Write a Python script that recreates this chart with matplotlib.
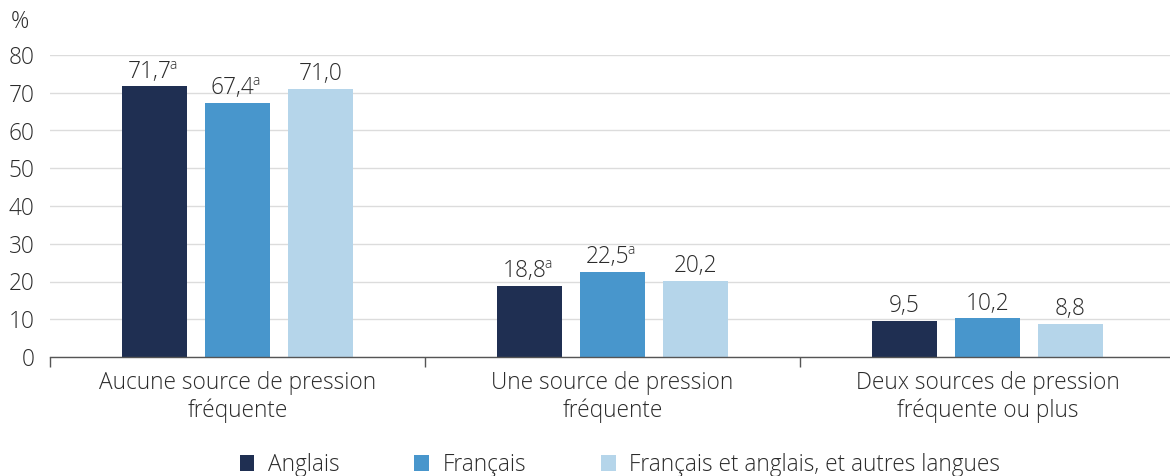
import numpy as np
import matplotlib
matplotlib.use("Agg")
import matplotlib.pyplot as plt
from matplotlib.patches import Patch

# data
categories = [
    "Aucune source de pression\nfréquente",
    "Une source de pression\nfréquente",
    "Deux sources de pression\nfréquente ou plus",
]
series_names = ["Anglais", "Français", "Français et anglais, et autres langues"]
anglais = [71.7, 18.8, 9.5]
francais = [67.4, 22.5, 10.2]
autres = [71.0, 20.2, 8.8]
# "a" marks a significant difference
flags_anglais = [True, True, False]
flags_francais = [True, True, False]
flags_autres = [False, False, False]
yticks = [0, 10, 20, 30, 40, 50, 60, 70, 80]

colors = ["#1f2f52", "#4896cc", "#b5d5ea"]
txt = "#2b2b2b"
fs = 16.3

plt.rcParams["font.family"] = ["Open Sans", "DejaVu Sans"]
plt.rcParams["font.weight"] = "light"
plt.rcParams["font.size"] = fs

fig = plt.figure(figsize=(11.7, 4.76), dpi=100)
# the plot area runs a little past the right edge of the image
ax = fig.add_axes([50 / 1170, 119 / 476, 1125 / 1170, 302 / 476])

x = np.arange(len(categories))
width = 0.173
pitch = 0.221
series = [anglais, francais, autres]
flags = [flags_anglais, flags_francais, flags_autres]

for i, (vals, fl) in enumerate(zip(series, flags)):
    xs = x + (i - 1) * pitch
    ax.bar(xs, vals, width, color=colors[i], zorder=3)
    for xi, v, f in zip(xs, vals, fl):
        label = f"{v:.1f}".replace(".", ",")
        t = ax.annotate(label, (xi, v), xytext=(-3.5 if f else 0, 2),
                        textcoords="offset points", ha="center", va="bottom",
                        color=txt)
        if f:
            ax.annotate("a", xy=(1, 0.45), xycoords=t, xytext=(-1.5, 0),
                        textcoords="offset points", ha="left", va="bottom",
                        color=txt, fontsize=10)

ax.set_xlim(-0.5, 2.5)
ax.set_ylim(0, 80)
ax.set_yticks(yticks)
ax.set_xticks(x)
ax.set_xticklabels(categories, color=txt, linespacing=1.2)
ax.set_xticks([-0.5, 0.5, 1.5], minor=True)
ax.tick_params(axis="x", which="major", length=0, pad=10)
ax.tick_params(axis="x", which="minor", length=7, width=1, color="#555555")
ax.tick_params(axis="y", length=0, pad=11, labelcolor=txt)
ax.grid(axis="y", color="#dcdcdc", linewidth=1, zorder=0)
for s in ["top", "right", "left"]:
    ax.spines[s].set_visible(False)
ax.spines["bottom"].set_color("#555555")
ax.spines["bottom"].set_linewidth(1)
ax.spines["bottom"].set_zorder(4)

fig.text(11 / 1170, 1 - 22 / 476, "%", color=txt, va="center")

handles = [Patch(facecolor=c, edgecolor="none") for c in colors]
fig.legend(handles, series_names, loc="center", bbox_to_anchor=(620 / 1170, 1 - 465 / 476),
           ncol=3, frameon=False, handlelength=0.65, handleheight=0.65,
           handletextpad=0.6, columnspacing=3.3, labelcolor=txt)

fig.savefig("out.png", dpi=100)
